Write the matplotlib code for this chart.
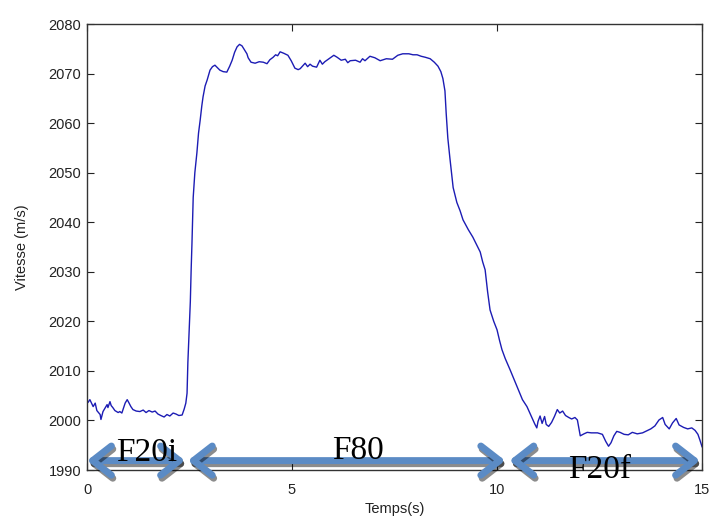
import matplotlib
matplotlib.use("Agg")
import matplotlib.pyplot as plt
import matplotlib.patheffects as pe

# Vitesse mesurée (m/s) en fonction du temps (s)
temps = [0.0, 0.02, 0.07, 0.15, 0.2, 0.24, 0.32, 0.34, 0.39, 0.44, 0.49, 0.51,
         0.56, 0.59, 0.63, 0.68, 0.76, 0.8, 0.85, 0.93, 0.98, 1.02, 1.07, 1.12,
         1.2, 1.29, 1.37, 1.44, 1.51, 1.59, 1.66, 1.73, 1.8, 1.88, 1.95, 2.02,
         2.1, 2.17, 2.24, 2.32, 2.37, 2.41, 2.44, 2.46, 2.49, 2.52, 2.54, 2.56,
         2.59, 2.63, 2.68, 2.72, 2.76, 2.8, 2.83, 2.88, 2.93, 3.0, 3.06, 3.12,
         3.18, 3.24, 3.32, 3.41, 3.48, 3.54, 3.6, 3.66, 3.72, 3.78, 3.84, 3.9,
         3.93, 4.0, 4.1, 4.2, 4.3, 4.39, 4.46, 4.54, 4.6, 4.65, 4.71, 4.8,
         4.9, 4.98, 5.07, 5.15, 5.2, 5.32, 5.38, 5.44, 5.5, 5.6, 5.68, 5.74, 5.8, 5.9,
         6.02, 6.1, 6.2, 6.3, 6.36, 6.42, 6.55, 6.66, 6.72, 6.78, 6.9, 7.02, 7.15, 7.3,
         7.45, 7.58, 7.7, 7.85, 7.95, 8.05, 8.15, 8.25, 8.37, 8.47, 8.56, 8.63,
         8.68, 8.73, 8.76, 8.8, 8.85, 8.93, 9.02, 9.1, 9.17, 9.3, 9.41, 9.5,
         9.59, 9.65, 9.71, 9.77, 9.83, 9.92, 10.0, 10.06, 10.12, 10.2, 10.32, 10.43,
         10.54, 10.62, 10.73, 10.85, 10.92, 10.97, 11.0, 11.05, 11.1, 11.16, 11.2, 11.26,
         11.33, 11.4, 11.47, 11.53, 11.6, 11.67, 11.75, 11.82, 11.9, 11.96, 12.03, 12.12,
         12.2, 12.3, 12.45, 12.57, 12.65, 12.72, 12.78, 12.85, 12.92, 13.0, 13.1, 13.2,
         13.3, 13.42, 13.55, 13.65, 13.75, 13.85, 13.95, 14.04, 14.1, 14.2, 14.28, 14.37,
         14.44, 14.55, 14.65, 14.75, 14.83, 14.9, 14.95, 15.0]
vitesse = [2004.0, 2003.6, 2004.2, 2002.8, 2003.5, 2002.0, 2001.2, 2000.2, 2001.8, 2002.5, 2003.2, 2002.6,
           2003.8, 2003.0, 2002.6, 2002.0, 2001.6, 2001.8, 2001.5, 2003.5, 2004.2, 2003.6, 2002.8, 2002.2,
           2001.9, 2001.8, 2002.1, 2001.6, 2002.0, 2001.7, 2001.9, 2001.3, 2001.0, 2000.7, 2001.2, 2000.9,
           2001.5, 2001.3, 2001.0, 2001.1, 2002.3, 2003.5, 2005.5, 2011.7, 2017.7, 2024.0, 2030.4, 2035.8,
           2045.0, 2050.0, 2054.0, 2058.0, 2060.6, 2063.5, 2065.3, 2067.5, 2068.7, 2070.7, 2071.4, 2071.7,
           2071.2, 2070.7, 2070.4, 2070.3, 2071.5, 2072.7, 2074.3, 2075.4, 2075.9, 2075.6, 2074.8, 2074.0,
           2073.2, 2072.3, 2072.1, 2072.4, 2072.3, 2072.0, 2072.8, 2073.3, 2073.8, 2073.6, 2074.4, 2074.1,
           2073.7, 2072.6, 2071.1, 2070.8, 2071.0, 2072.1, 2071.4, 2071.9, 2071.5, 2071.3, 2072.7, 2071.9, 2072.4, 2073.0,
           2073.7, 2073.3, 2072.7, 2072.9, 2072.2, 2072.6, 2072.7, 2072.3, 2073.0, 2072.6, 2073.5, 2073.2, 2072.6, 2073.0,
           2072.9, 2073.7, 2074.0, 2074.0, 2073.8, 2073.8, 2073.5, 2073.3, 2073.0, 2072.3, 2071.5, 2070.4,
           2069.0, 2066.5, 2062.0, 2057.0, 2053.0, 2047.0, 2044.0, 2042.3, 2040.5, 2038.5, 2037.0, 2035.5,
           2034.0, 2032.0, 2030.4, 2026.0, 2022.3, 2020.0, 2018.3, 2016.2, 2014.3, 2012.5, 2010.2, 2008.0,
           2005.8, 2004.2, 2002.8, 2000.6, 1999.3, 1998.5, 1999.8, 2000.9, 1999.4, 2000.8, 1999.2, 1998.8,
           1999.6, 2000.8, 2002.2, 2001.5, 2001.9, 2001.0, 2000.6, 2000.3, 2000.6, 2000.1, 1996.9, 1997.3,
           1997.6, 1997.5, 1997.5, 1997.2, 1995.8, 1994.8, 1995.5, 1996.9, 1997.8, 1997.6, 1997.2, 1997.1,
           1997.6, 1997.3, 1997.5, 1997.9, 1998.3, 1998.9, 2000.1, 2000.6, 1999.2, 1998.3, 1999.5, 2000.4,
           1999.1, 1998.6, 1998.3, 1998.5, 1998.0, 1997.2, 1996.0, 1994.7]

# Phases de l'essai
phases = ["F20i", "F80", "F20f"]
phase_debut = [0.0, 2.46, 10.3]
phase_fin = [2.39, 10.2, 14.95]

fig = plt.figure(figsize=(7.12, 5.23), dpi=100)
ax = fig.add_axes([0.1222, 0.1013, 0.8638, 0.8527])

ax.plot(temps, vitesse, color="#1c1cb4", lw=1.0)

ax.set_xlim(0, 15)
ax.set_ylim(1990, 2080)
ax.set_xticks([0, 5, 10, 15])
ax.set_yticks(range(1990, 2081, 10))
ax.tick_params(direction="in", length=5, top=True, right=True,
               labelsize=10.5, colors="#222222")
ax.tick_params(axis="x", pad=9)
ax.tick_params(axis="y", pad=4)
for s in ax.spines.values():
    s.set_color("#333333")
    s.set_linewidth(1.0)
for lab in ax.get_xticklabels() + ax.get_yticklabels():
    lab.set_family("Liberation Sans")

ax.set_xlabel("Temps(s)", fontsize=10.5, family="Liberation Sans",
              color="#222222", labelpad=4)
ax.set_ylabel("Vitesse (m/s)", fontsize=10.5, family="Liberation Sans",
              color="#222222", labelpad=14)

# flèches doubles pour chaque phase
y_fleche = 1991.9
for debut, fin in zip(phase_debut, phase_fin):
    ann = ax.annotate("", xy=(fin, y_fleche), xytext=(debut, y_fleche),
                      annotation_clip=False,
                      arrowprops=dict(arrowstyle="<->,head_length=1.35,head_width=1.05",
                                      color="#5b8bc5", lw=5, shrinkA=0, shrinkB=0,
                                      mutation_scale=10, capstyle="round",
                                      joinstyle="round"))
    ann.arrow_patch.set_path_effects([
        pe.SimpleLineShadow(offset=(1.0, -2.2), shadow_color="k", alpha=0.45),
        pe.Normal()])

# noms des phases, par-dessus les flèches
ax.text(1.45, 1991.9, phases[0], ha="center", va="baseline",
        fontsize=24, family="Liberation Serif", zorder=6)
ax.text(6.6, 1992.3, phases[1], ha="center", va="baseline",
        fontsize=24, family="Liberation Serif", zorder=6)
ax.text(12.5, 1988.4, phases[2], ha="center", va="baseline",
        fontsize=24, family="Liberation Serif", zorder=6)

fig.savefig("out.png", dpi=100)
